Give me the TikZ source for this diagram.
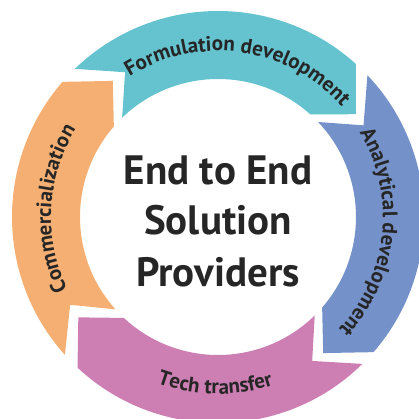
\documentclass[tikz,border=0pt]{standalone}
\usepackage{fontspec}
\setmainfont{PT Sans}
\usetikzlibrary{decorations.text}
\definecolor{cteal}{HTML}{64C3CF}
\definecolor{cblue}{HTML}{7591C9}
\definecolor{cpink}{HTML}{CD7FB3}
\definecolor{corange}{HTML}{F5AF72}
\definecolor{ctext}{HTML}{262626}
\newcommand{\ringfont}{\bfseries\fontsize{21}{21}\selectfont\color{ctext}}
\tikzset{
  seg/.style={fill=#1, draw=none},
  centertext/.style={anchor=base, text=ctext, font=\bfseries\fontsize{41}{41}\selectfont, inner sep=0pt},
  ringtext/.style={decorate, decoration={text along path, text align=center, text={|\ringfont|#1}}}
}
\begin{document}
\begin{tikzpicture}[x=1pt,y=1pt]
\useasboundingbox (-218,-202) rectangle (201,217);
% segments: start angle, end angle (clockwise)
\foreach \c/\a/\b in {cteal/134/48, cblue/43.5/-41, cpink/-45.5/-133, corange/222/139}{
  \fill[seg=\c] (\a:206) arc[start angle=\a, end angle=\b, radius=206]
     -- ({\b-11.3}:172) -- (\b:138)
     arc[start angle=\b, end angle=\a, radius=138]
     -- ({\a-11.3}:172) -- cycle;
}
% ring labels
\path[ringtext={Formulation development}] (127:166) arc[start angle=127, end angle=37, radius=166];
\path[ringtext={Analytical development}] (39:165) arc[start angle=39, end angle=-51, radius=165];
\path[ringtext={Tech transfer}] (-136:177) arc[start angle=-136, end angle=-46, radius=177];
\path[ringtext={Commercialization}] (222:167) arc[start angle=222, end angle=132, radius=167];
% centre
\node[centertext] (l1) at (0,32) {End to End};
\node[centertext] (l2) at (0,-18) {Solution};
\node[centertext] (l3) at (0,-70) {Providers};
\end{tikzpicture}
\end{document}
